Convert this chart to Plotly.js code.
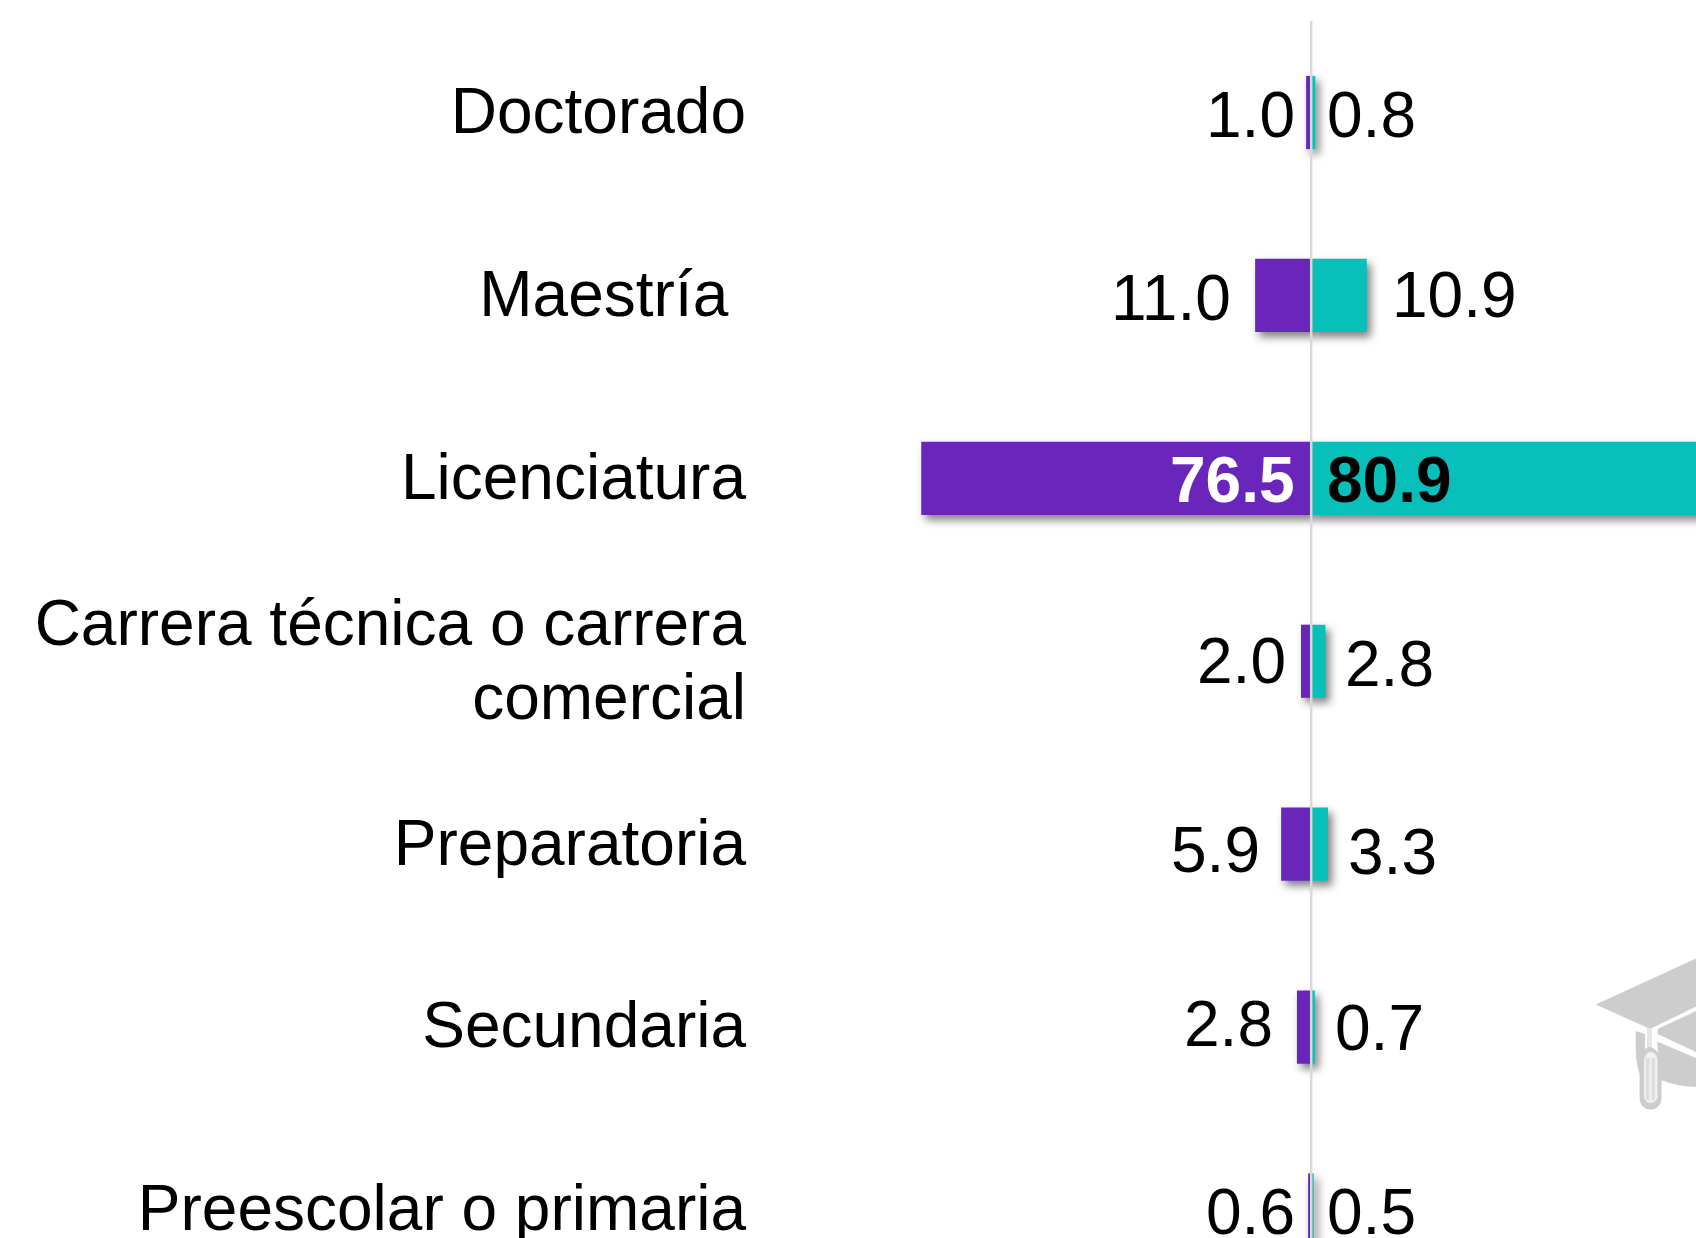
<!DOCTYPE html>
<html>
<head>
<meta charset="utf-8">
<script src="https://cdn.plot.ly/plotly-3.0.1.min.js"></script>
<style>
html,body{margin:0;padding:0;background:#fff;overflow:hidden}
#chart{width:1696px;height:1238px}
.barlayer .point path{filter:drop-shadow(4px 5px 4px rgba(0,0,0,.5))}
</style>
</head>
<body>
<div id="chart"></div>
<script>
// Data
const categories = ["Doctorado","Maestría\u00a0","Licenciatura","Carrera técnica o carrera<br>comercial","Preparatoria","Secundaria","Preescolar o primaria"];
const purpleValues = [1.0,11.0,76.5,2.0,5.9,2.8,0.6];
const tealValues = [0.8,10.9,80.9,2.8,3.3,0.7,0.5];

// Layout constants
const W=1696,H=1238,ML=746.5,MT=20.5,ZERO=1311,PXU=5.1,PITCH=183;
const PURPLE="#6a26bb",TEAL="#07c0ba",FONT="Liberation Sans, Arial, sans-serif";
const leftDx =[-14,-78,-14,-23,-49,-36,-14];
const rightDx=[14,79,14,32,35,22,14];
const leftDy =[-3,-3,-2,0,-6,3,-2];
const rightDy=[-3,0,-2,-3,-8,-1,-2];

const annotations=[];
categories.forEach((c,i)=>{
  const bold=i===2;
  annotations.push({xref:'x',yref:'y',x:0,y:i,text:purpleValues[i].toFixed(1),showarrow:false,xanchor:'right',yanchor:'middle',
    xshift:leftDx[i],yshift:leftDy[i],font:{family:FONT,size:64,color:bold?'#fff':'#000',weight:bold?700:400}});
  annotations.push({xref:'x',yref:'y',x:0,y:i,text:tealValues[i].toFixed(1),showarrow:false,xanchor:'left',yanchor:'middle',
    xshift:rightDx[i],yshift:rightDy[i],font:{family:FONT,size:64,color:'#000',weight:bold?700:400}});
});

// Graduation cap decoration, described in page pixels
const toPaper=s=>s.replace(/(-?[\d.]+),(-?[\d.]+)/g,(m,x,y)=>((+x-ML)/(W-ML)).toFixed(5)+','+(1-(+y-MT)/(H-MT)).toFixed(5));
const hat=(path,fill)=>({type:'path',xref:'paper',yref:'paper',layer:'above',path:toPaper(path),fillcolor:fill,line:{width:0}});
const G="#cdcdcd",L="#e6e6e6";
const hatShapes=[
  hat("M 1595.7,1004.3 L 1696,958.3 L 1696,1006.5 L 1652,1028 L 1648,1028 Z",G),
  hat("M 1657.5,1029 L 1696,1011 L 1696,1052 L 1657.5,1034 Z",G),
  hat("M 1657,1041.5 L 1696,1058 L 1696,1087 Q 1675,1086 1661,1080 Z",G),
  hat("M 1635.7,1031 L 1645,1034 L 1645,1052 L 1640,1060 L 1640,1075 Q 1636,1065 1635.7,1050 Z",G),
  hat("M 1647,1028 L 1652,1028 L 1652,1048 L 1647,1048 Z",L),
  hat("M 1639.5,1062 Q 1640,1052 1648,1047 L 1651,1047 Q 1661,1052 1661.5,1062 L 1661.5,1098 Q 1661,1109 1650.5,1109.5 Q 1640,1109 1639.5,1098 Z",G),
  hat("M 1644,1060 Q 1645,1054 1649,1052 L 1652,1052 Q 1657,1054 1657.5,1060 L 1657.5,1098 Q 1655,1103 1650.5,1103 Q 1646,1103 1644,1098 Z","#f0f0f0"),
  hat("M 1646,1058 L 1655,1058 L 1655,1100 L 1646,1100 Z","#dddddd"),
  hat("M 1649.5,1058 L 1651.5,1058 L 1651.5,1100 L 1649.5,1100 Z","#f2f2f2")
];

const data=[
  {type:'bar',orientation:'h',name:'Serie 1',y:categories,x:purpleValues.map(v=>-v),width:0.4,marker:{color:PURPLE},hoverinfo:'skip'},
  {type:'bar',orientation:'h',name:'Serie 2',y:categories,x:tealValues,width:0.4,marker:{color:TEAL},hoverinfo:'skip'}
];
const layout={
  width:W,height:H,margin:{l:ML,r:0,t:MT,b:0,pad:0},paper_bgcolor:'#fff',plot_bgcolor:'rgba(0,0,0,0)',
  barmode:'overlay',showlegend:false,
  xaxis:{range:[(ML-ZERO)/PXU,(W-ZERO)/PXU],visible:false,fixedrange:true},
  yaxis:{type:'category',categoryorder:'array',categoryarray:categories,range:[-0.5+(H-MT)/PITCH,-0.5],
    showgrid:false,zeroline:false,showline:false,ticks:'',ticklen:0,automargin:false,fixedrange:true,
    tickfont:{family:FONT,size:64,color:'#000'}},
  annotations:annotations,
  shapes:[{type:'line',xref:'x',yref:'paper',x0:0,x1:0,y0:0,y1:1,layer:'above',line:{color:'#d9d9d9',width:2.5}},...hatShapes]
};
Plotly.newPlot('chart',data,layout,{displayModeBar:false,staticPlot:true}).then(gd=>{
  // match the reference's line spacing and vertical placement of the category labels
  gd.querySelectorAll('.ytick text').forEach(t=>{
    const lines=t.querySelectorAll('tspan.line');
    if(lines[1]) lines[1].setAttribute('dy','1.15em');
    t.parentNode.setAttribute('transform','translate(0,'+(lines[1]?3:-2)+')');
  });
});
</script>
</body>
</html>
